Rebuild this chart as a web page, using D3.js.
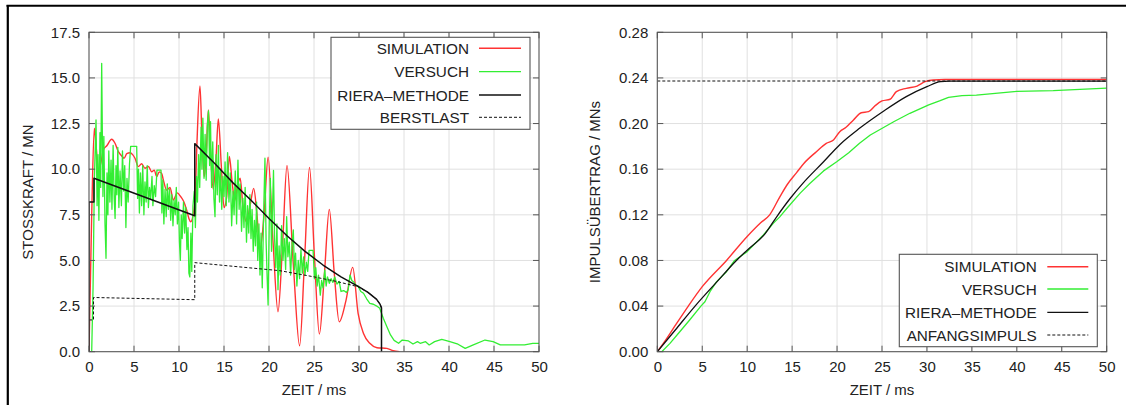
<!DOCTYPE html>
<html>
<head>
<meta charset="utf-8">
<script src="https://cdn.jsdelivr.net/npm/d3@7"></script>
<style>
  html, body { margin: 0; padding: 0; background: #fff; }
  svg { display: block; }
  text { font-family: "Liberation Sans", Arial, sans-serif; fill: #222; }
</style>
</head>
<body>
<svg id="fig" width="1126" height="405"></svg>
<script>
// ---- axis ticks ----
const timeTicks = [0, 5, 10, 15, 20, 25, 30, 35, 40, 45, 50];
const forceTicks = [0, 2.5, 5, 7.5, 10, 12.5, 15, 17.5];
const impulseTicks = [0, 0.04, 0.08, 0.12, 0.16, 0.20, 0.24, 0.28];

// ---- impact force [ms, MN] ----
const simulationForce = [
  [0,0],[0.3,7.5],[0.59,12.24],[0.8,11.2],[1.04,9.96],[1.3,10.3],[1.59,11.05],[2.0,11.3],[2.52,11.64],
  [2.89,11.42],[3.26,10.96],[3.6,10.75],[3.89,10.6],[4.2,10.85],[4.56,10.9],[4.85,10.8],[5.11,10.6],
  [5.48,10.14],[5.85,10.3],[6.22,10.05],[6.6,10.15],[6.96,9.86],[7.25,9.95],[7.52,9.59],[7.8,9.85],
  [8.07,9.77],[8.26,9.41],[8.63,8.85],[9.0,9.0],[9.37,8.31],[9.8,8.7],[10.2,8.49],[10.55,8.2],
  [10.85,7.76],[11.1,7.3],[11.3,7.12],[11.6,7.58],[11.8,8.5],[12.0,11.5],[12.33,14.56],[12.55,11.8],
  [12.8,9.6],[13.0,10.5],[13.26,13.24],[13.5,11.0],[13.8,8.9],[14.1,10.5],[14.37,12.75],[14.7,10.2],
  [15.0,7.9],[15.3,8.5],[15.6,10.7],[15.9,9.3],[16.2,8.3],[16.5,9.1],[16.8,9.5],[17.1,8.0],[17.5,7.12],
  [17.9,8.0],[18.3,8.95],[18.65,7.6],[19.0,5.6],[19.45,7.5],[19.9,10.65],[20.45,6.0],[21.0,2.19],
  [21.5,5.8],[22.0,10.2],[22.7,4.8],[23.4,0.33],[23.95,5.0],[24.5,10.1],[25.05,5.2],[25.6,0.97],
  [26.15,4.2],[26.7,7.8],[27.25,4.3],[27.8,1.64],[28.55,2.8],[29.3,4.62],[29.9,2.1],[30.5,1.0],
  [31.2,0.46],[32.0,0.22],[33.1,0.18],[33.8,0.05],[34.5,0]
];

const versuchForce = [
  [0,0],[0.3,0],[0.45,3.5],[0.6,9.5],[0.78,12.7],[0.9,8.0],[1.0,10.8],[1.1,7.2],[1.22,12.0],[1.3,9.0],
  [1.41,15.8],[1.55,8.5],[1.65,11.8],[1.78,7.0],[1.89,5.12],[2.0,9.8],[2.1,7.5],[2.2,11.0],[2.32,8.2],
  [2.45,10.5],[2.55,7.8],[2.68,11.3],[2.8,8.4],[2.9,7.3],[3.0,10.2],[3.1,8.6],[3.2,11.2],[3.32,7.9],
  [3.45,9.9],[3.6,8.0],[3.72,11.0],[3.85,8.8],[3.97,10.2],[4.1,6.8],[4.22,9.5],[4.35,8.2],[4.5,10.3],
  [4.63,11.25],[5.3,11.25],[5.4,8.4],[5.5,10.0],[5.6,7.6],[5.72,9.8],[5.85,8.0],[5.97,10.2],[6.1,7.5],
  [6.22,9.3],[6.35,8.2],[6.47,10.2],[6.6,7.9],[6.72,9.0],[6.85,8.4],[7.0,9.6],[7.1,8.0],[7.25,9.1],
  [7.4,8.5],[7.55,9.95],[8.0,9.95],[8.1,7.6],[8.2,9.4],[8.32,7.0],[8.45,8.9],[8.58,7.4],[8.7,9.2],
  [8.82,7.8],[8.95,8.9],[9.08,7.2],[9.2,8.6],[9.33,6.9],[9.45,8.3],[9.58,7.5],[9.7,9.0],[9.82,7.0],
  [9.95,8.2],[10.05,6.0],[10.15,5.0],[10.25,7.5],[10.35,6.2],[10.5,8.2],[10.62,6.5],[10.75,7.9],
  [10.88,5.6],[11.0,6.8],[11.1,4.3],[11.2,4.1],[11.32,6.5],[11.42,4.4],[11.55,8.0],[11.7,8.8],
  [11.82,6.8],[11.95,9.6],[12.05,8.2],[12.18,10.8],[12.3,9.0],[12.45,12.3],[12.55,10.0],[12.65,12.8],
  [12.78,9.5],[12.9,11.9],[13.02,9.4],[13.15,12.4],[13.28,13.2],[13.4,10.2],[13.5,12.6],[13.62,9.0],
  [13.75,11.5],[13.88,8.4],[14.0,7.4],[14.12,10.8],[14.25,8.6],[14.38,11.3],[14.5,8.2],[14.62,10.0],
  [14.75,7.8],[14.88,9.6],[15.0,8.5],[15.12,10.4],[15.25,8.0],[15.4,10.9],[15.55,8.2],[15.7,9.8],
  [15.85,6.9],[16.0,8.8],[16.12,7.5],[16.25,9.9],[16.4,7.0],[16.55,10.5],[16.68,7.8],[16.8,9.2],
  [16.95,6.6],[17.1,8.4],[17.22,6.8],[17.35,9.0],[17.5,6.0],[17.62,8.0],[17.75,6.5],[17.88,8.6],
  [18.0,6.2],[18.12,7.8],[18.25,5.5],[18.38,7.2],[18.5,5.8],[18.62,8.2],[18.75,5.0],[18.88,7.0],
  [19.0,4.2],[19.12,6.5],[19.25,3.5],[19.4,7.5],[19.55,10.6],[19.68,6.0],[19.8,4.0],[19.9,2.56],
  [20.02,6.8],[20.15,9.5],[20.28,5.5],[20.4,8.0],[20.5,9.93],[20.62,6.2],[20.75,4.6],[20.88,7.0],
  [21.0,3.4],[21.12,5.8],[21.25,4.2],[21.4,6.9],[21.55,5.0],[21.7,6.2],[21.85,4.5],[21.96,7.4],
  [22.1,5.2],[22.25,6.0],[22.4,4.2],[22.55,5.8],[22.7,6.67],[22.82,4.5],[22.95,5.4],[23.1,3.6],
  [23.25,5.0],[23.4,4.0],[23.55,5.6],[23.7,4.3],[23.85,5.2],[24.0,4.2],[24.15,4.9],[24.3,4.4],
  [24.45,5.55],[24.9,5.55],[25.05,4.0],[25.2,4.6],[25.35,3.6],[25.5,4.2],[25.7,3.1],[25.85,3.9],
  [26.0,3.5],[26.2,4.47],[26.35,3.6],[26.5,4.1],[26.7,3.75],[26.9,4.0],[27.1,3.8],[27.3,4.1],
  [27.55,3.7],[27.8,3.85],[28.0,3.3],[28.3,3.35],[28.6,3.25],[28.8,3.4],[29.0,4.2],[29.2,3.9],
  [29.45,3.8],[29.7,3.6],[29.9,3.6],[30.2,3.3],[30.5,3.2],[30.85,2.9],[31.2,2.65],[31.6,2.6],
  [31.97,2.5],[32.3,2.38],[32.7,1.83],[33.1,1.37],[33.5,0.92],[33.9,0.62],[34.4,0.46],[34.8,0.64],
  [35.5,0.59],[36.0,0.42],[36.5,0.55],[36.8,0.46],[37.4,0.55],[37.8,0.37],[38.4,0.55],[39.2,0.68],
  [40.1,0.55],[41.0,0.41],[41.8,0.18],[42.7,0.37],[44.0,0.64],[44.9,0.55],[45.7,0.37],[48.4,0.37],
  [49.3,0.46],[50,0.46]
];

const rieraForce = [
  [0,0],[0,8.2],[0.55,8.2],[0.55,9.5],[11.75,7.45],[11.75,11.4],[14,10.3],[16,9.25],[18,8.3],
  [20,7.3],[22,6.35],[24,5.5],[26,4.75],[28,4.1],[30,3.55],[31,3.25],[31.96,2.87],[32.33,2.61],
  [32.5,2.4],[32.5,0]
];

const berstlast = [
  [0,1.74],[0.5,1.74],[0.5,2.97],[11.75,2.85],[11.75,4.88],[16,4.68],[21.2,4.44],[24.9,4.11],
  [27.5,3.85],[29.9,3.56],[31,3.25],[31.96,2.87],[32.33,2.61],[32.5,2.4],[32.5,0]
];

// ---- transferred impulse [ms, MNs] ----
const simulationImpulse = [
  [0,0],[1.0,0.011],[2.0,0.023],[3.45,0.04],[5.0,0.057],[7.7,0.08],[10.0,0.101],[11.5,0.113],
  [12.5,0.12],[13.65,0.136],[14.5,0.147],[15.5,0.157],[16.3,0.165],[17.7,0.1753],[18.8,0.1827],
  [19.6,0.1856],[20.3,0.1929],[21.0,0.1967],[21.8,0.203],[22.7,0.2095],[23.5,0.2104],[24.2,0.2154],
  [25.0,0.2198],[25.9,0.2213],[26.6,0.228],[27.7,0.2309],[28.9,0.2329],[29.8,0.2367],[30.7,0.2382],
  [32,0.2386],[50,0.2386]
];

const versuchImpulse = [
  [0,0],[0.5,0],[1.41,0.0073],[2.5,0.0175],[3.6,0.0278],[4.85,0.04],[5.3,0.0438],[5.86,0.0526],
  [6.6,0.0614],[7.7,0.0701],[8.6,0.08],[10,0.0877],[11.8,0.1023],[12.9,0.1125],[13.6,0.118],
  [14.4,0.1255],[15.9,0.139],[16.97,0.1475],[18.5,0.1585],[19.96,0.1665],[21.3,0.1745],[22.5,0.1827],
  [23.7,0.19],[26.3,0.2016],[28.1,0.209],[30.2,0.2163],[31.4,0.2198],[32.4,0.223],[33.9,0.2244],
  [35.5,0.225],[40,0.2283],[44.05,0.2288],[50,0.2311]
];

const rieraImpulse = [
  [0,0],[2,0.019],[4.2,0.04],[6.6,0.061],[8.8,0.08],[10,0.089],[12,0.1035],[13.3,0.1185],
  [14.8,0.1345],[16.24,0.148],[18.5,0.1665],[20.3,0.1815],[22.5,0.1958],[25.2,0.211],[27.7,0.2236],
  [30.0,0.2323],[31.5,0.2368],[32.5,0.2372],[50,0.2372]
];

const anfangsimpuls = [[0,0.2373],[50,0.2373]];

// ---- styles ----
const RED = "#ff3333", GREEN = "#33ee33", BLACK = "#111", FRAME = "#555", GRID = "#e0e0e0";

const svg = d3.select("#fig");
svg.append("rect").attr("width", 1126).attr("height", 405).attr("fill", "#fff");

// figure border (top and left edges)
svg.append("line").attr("x1", 6.5).attr("x2", 1126).attr("y1", 5.8).attr("y2", 5.8)
  .attr("stroke", "#000").attr("stroke-width", 2);
svg.append("line").attr("x1", 7.8).attr("x2", 7.8).attr("y1", 5).attr("y2", 405)
  .attr("stroke", "#000").attr("stroke-width", 2.2);

function panel(cfg) {
  const x = d3.scaleLinear().domain([0, 50]).range([cfg.left, cfg.right]);
  const y = d3.scaleLinear().domain(cfg.yDomain).range([351.7, 32.3]);
  const g = svg.append("g");

  const clipId = "clip" + cfg.id;
  g.append("clipPath").attr("id", clipId).append("rect")
    .attr("x", cfg.left).attr("y", 32.3).attr("width", cfg.right - cfg.left).attr("height", 351.7 - 32.3);

  // grid
  g.append("g").selectAll("line").data(timeTicks.slice(1, -1)).join("line")
    .attr("x1", d => x(d)).attr("x2", d => x(d)).attr("y1", y.range()[0]).attr("y2", y.range()[1])
    .attr("stroke", GRID).attr("stroke-width", 1);
  g.append("g").selectAll("line").data(cfg.yTicks.slice(1, -1)).join("line")
    .attr("y1", d => y(d)).attr("y2", d => y(d)).attr("x1", cfg.left).attr("x2", cfg.right)
    .attr("stroke", GRID).attr("stroke-width", 1);

  // series
  const plot = g.append("g").attr("clip-path", `url(#${clipId})`);
  cfg.series.forEach(s => {
    const line = d3.line().x(d => x(d[0])).y(d => y(d[1])).curve(s.curve || d3.curveLinear);
    plot.append("path").datum(s.data).attr("d", line).attr("fill", "none")
      .attr("stroke", s.color).attr("stroke-width", s.width)
      .attr("stroke-dasharray", s.dash || null).attr("stroke-linejoin", "round");
  });

  // frame with inward mirrored ticks
  g.append("rect").attr("x", cfg.left).attr("y", 32.3).attr("width", cfg.right - cfg.left)
    .attr("height", 351.7 - 32.3).attr("fill", "none").attr("stroke", FRAME).attr("stroke-width", 1.1);
  const tk = g.append("g").attr("stroke", FRAME).attr("stroke-width", 1);
  timeTicks.forEach(t => {
    tk.append("line").attr("x1", x(t)).attr("x2", x(t)).attr("y1", 351.7).attr("y2", 345.7);
    tk.append("line").attr("x1", x(t)).attr("x2", x(t)).attr("y1", 32.3).attr("y2", 38.3);
  });
  cfg.yTicks.forEach(v => {
    tk.append("line").attr("x1", cfg.left).attr("x2", cfg.left + 6).attr("y1", y(v)).attr("y2", y(v));
    tk.append("line").attr("x1", cfg.right).attr("x2", cfg.right - 6).attr("y1", y(v)).attr("y2", y(v));
  });

  // tick labels via d3 axes
  const xAxis = d3.axisBottom(x).tickValues(timeTicks).tickSize(0).tickPadding(10).tickFormat(d3.format("d"));
  const yAxis = d3.axisLeft(y).tickValues(cfg.yTicks).tickSize(0).tickPadding(9).tickFormat(cfg.fmt);
  const ax = g.append("g").attr("transform", "translate(0,351.7)").call(xAxis);
  const ay = g.append("g").attr("transform", `translate(${cfg.left},0)`).call(yAxis);
  [ax, ay].forEach(a => {
    a.select(".domain").remove();
    a.selectAll("text").attr("font-size", 15).attr("font-family", "Liberation Sans, Arial, sans-serif").attr("fill", "#222");
  });

  g.append("text").attr("x", (cfg.left + cfg.right) / 2).attr("y", 395)
    .attr("text-anchor", "middle").attr("font-size", 15).text("ZEIT / ms");
  g.append("text").attr("transform", `translate(${cfg.yLabelX},${(351.7 + 32.3) / 2}) rotate(-90)`)
    .attr("text-anchor", "middle").attr("dominant-baseline", "central").attr("font-size", 15).text(cfg.yLabel);

  // legend
  const L = cfg.legend;
  g.append("rect").attr("x", L.x0).attr("y", L.y0).attr("width", L.x1 - L.x0).attr("height", L.y1 - L.y0)
    .attr("fill", "#fff").attr("stroke", FRAME).attr("stroke-width", 1.1);
  cfg.series.forEach((s, i) => {
    const yy = L.rows[i];
    g.append("text").attr("x", L.textX).attr("y", yy).attr("dy", "0.36em").attr("text-anchor", "end")
      .attr("font-size", 15.3).text(s.name);
    g.append("line").attr("x1", L.lx0).attr("x2", L.lx1).attr("y1", yy).attr("y2", yy)
      .attr("stroke", s.color).attr("stroke-width", s.width).attr("stroke-dasharray", s.dash || null);
  });
}

panel({
  id: "kraft", left: 89, right: 539, yDomain: [0, 17.5], yTicks: forceTicks,
  fmt: d3.format(".1f"), yLabel: "STOSSKRAFT / MN", yLabelX: 27,
  series: [
    { name: "SIMULATION", data: simulationForce, color: RED, width: 1.4, curve: d3.curveMonotoneX },
    { name: "VERSUCH", data: versuchForce, color: GREEN, width: 1.3 },
    { name: "RIERA–METHODE", data: rieraForce, color: BLACK, width: 1.5 },
    { name: "BERSTLAST", data: berstlast, color: BLACK, width: 1, dash: "3,2" }
  ],
  legend: { x0: 331, x1: 530, y0: 37.3, y1: 129.3, rows: [48.3, 71.7, 95, 117.3], textX: 469, lx0: 479, lx1: 521 }
});

panel({
  id: "impuls", left: 657.3, right: 1106.7, yDomain: [0, 0.28], yTicks: impulseTicks,
  fmt: d3.format(".2f"), yLabel: "IMPULSÜBERTRAG / MNs", yLabelX: 594,
  series: [
    { name: "SIMULATION", data: simulationImpulse, color: RED, width: 1.4, curve: d3.curveMonotoneX },
    { name: "VERSUCH", data: versuchImpulse, color: GREEN, width: 1.3 },
    { name: "RIERA–METHODE", data: rieraImpulse, color: BLACK, width: 1.3, curve: d3.curveMonotoneX },
    { name: "ANFANGSIMPULS", data: anfangsimpuls, color: BLACK, width: 1, dash: "3,2" }
  ],
  legend: { x0: 899.3, x1: 1097.3, y0: 254.3, y1: 346.7, rows: [266.7, 289, 312.3, 335], textX: 1036.7, lx0: 1047.3, lx1: 1088.3 }
});
</script>
</body>
</html>
